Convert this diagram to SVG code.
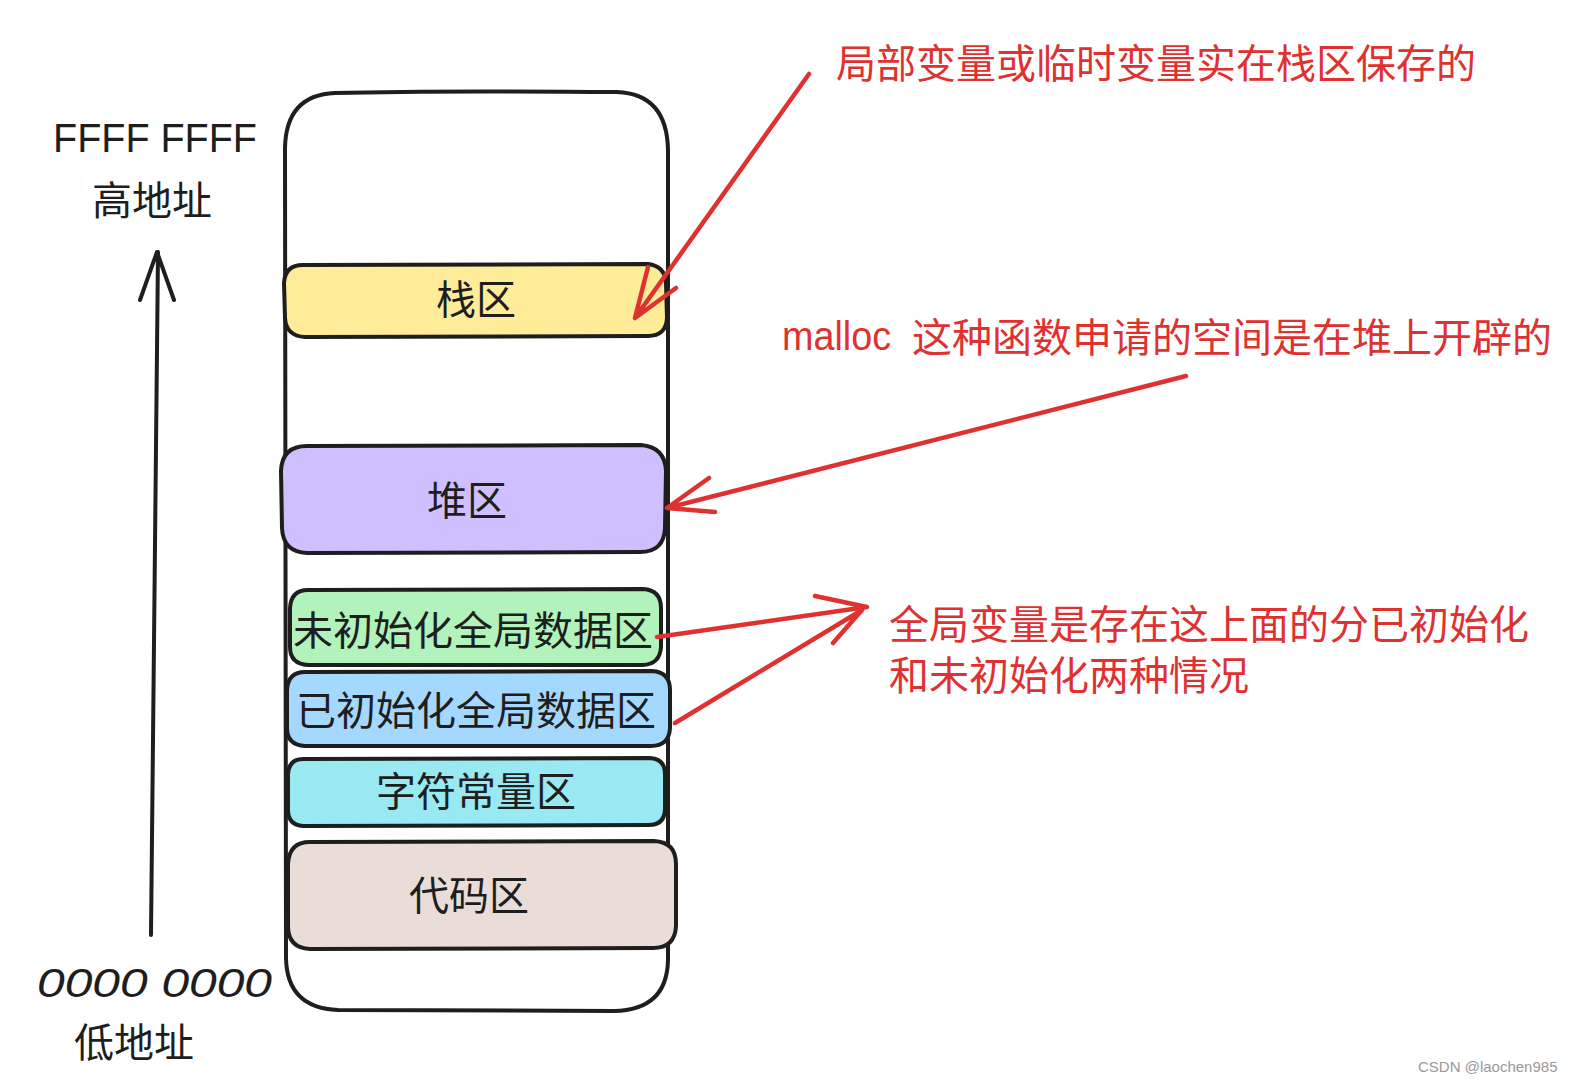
<svg xmlns="http://www.w3.org/2000/svg" width="1579" height="1083" viewBox="0 0 1579 1083">
<style>
.box{stroke:#1e1e1e;stroke-width:4;stroke-linejoin:round;stroke-linecap:round}
.cn{font-family:"Noto Sans CJK SC","Noto Sans",sans-serif;font-size:40px;fill:#1e1e1e}
.hand{font-family:"Liberation Sans","DejaVu Sans",sans-serif;font-size:40px;fill:#1e1e1e}
.red{fill:#e03131}
.rl{fill:none;stroke:#e03131;stroke-width:4.5;stroke-linecap:round;stroke-linejoin:round}
.bl{fill:none;stroke:#1e1e1e;stroke-width:4;stroke-linecap:round;stroke-linejoin:round}
</style>
<rect width="1579" height="1083" fill="#ffffff"/>
<g id="memory">
<path class="box" fill="#ffffff" d="M 335,93 C 450,90 560,92 617,92 Q 667,94 668,150 L 668,960 Q 667,1010 614,1011 L 338,1010 Q 287,1008 286,958 L 285,148 Q 286,95 335,93 Z"/>
</g>
<g id="stack">
<path class="box" fill="#ffec99" d="M 303,265 L 648,264 Q 665,266 666,283 L 667,318 Q 666,336 648,336 L 305,337 Q 286,336 285,318 L 284,283 Q 285,265 303,265 Z"/>
<text class="cn" x="476" y="314" text-anchor="middle">栈区</text>
</g>
<g id="heap">
<path class="box" fill="#d0bfff" d="M 307,446 L 641,445 Q 665,447 666,471 L 665,528 Q 664,552 640,552 L 307,553 Q 283,552 282,528 L 281,471 Q 282,446 307,446 Z"/>
<text class="cn" x="467" y="515" text-anchor="middle">堆区</text>
</g>
<g id="bss">
<path class="box" fill="#b2f2bb" d="M 308,590 L 643,589 Q 661,590 661,608 L 661,647 Q 660,664 643,665 L 308,665 Q 290,664 290,647 L 290,608 Q 291,590 308,590 Z"/>
<text class="cn" x="473" y="645" text-anchor="middle">未初始化全局数据区</text>
</g>
<g id="data">
<path class="box" fill="#a5d8ff" d="M 305,672 L 652,671 Q 670,672 670,690 L 670,728 Q 669,746 651,746 L 305,746 Q 287,745 287,728 L 287,690 Q 288,672 305,672 Z"/>
<text class="cn" x="476" y="725" text-anchor="middle">已初始化全局数据区</text>
</g>
<g id="rodata">
<path class="box" fill="#99e9f2" d="M 303,759 L 650,758 Q 665,759 665,774 L 665,810 Q 664,825 649,825 L 303,826 Q 288,825 288,810 L 288,774 Q 289,759 303,759 Z"/>
<text class="cn" x="476" y="806" text-anchor="middle">字符常量区</text>
</g>
<g id="code">
<path class="box" fill="#eaddd7" d="M 310,842 L 654,841 Q 676,842 676,864 L 676,926 Q 675,948 653,948 L 310,949 Q 288,948 288,926 L 288,864 Q 289,842 310,842 Z"/>
<text class="cn" x="469" y="910" text-anchor="middle">代码区</text>
</g>
<g id="high-label">
<text class="hand" x="53" y="152" textLength="204" lengthAdjust="spacingAndGlyphs">FFFF FFFF</text>
<text class="cn" x="152" y="215" text-anchor="middle">高地址</text>
</g>
<g id="low-label">
<text class="hand" x="37" y="997" textLength="235" lengthAdjust="spacingAndGlyphs" font-style="italic">0000 0000</text>
<text class="cn" x="134" y="1057" text-anchor="middle">低地址</text>
</g>
<g id="note-stack">
<text class="cn red" x="836" y="78">局部变量或临时变量实在栈区保存的</text>
</g>
<g id="note-heap">
<text class="hand red" x="782" y="350" font-size="27" textLength="109" lengthAdjust="spacingAndGlyphs">malloc</text>
<text class="cn red" x="912" y="352">这种函数申请的空间是在堆上开辟的</text>
</g>
<g id="note-global">
<text class="cn red" x="889" y="639">全局变量是存在这上面的分已初始化</text>
<text class="cn red" x="889" y="690">和未初始化两种情况</text>
</g>
<g id="connectors">
<path class="bl" d="M 151,935 L 158,252 M 140,300 L 157,252 L 174,300"/>
<path class="rl" d="M 809,74 L 635,318 M 648,267 L 635,318 L 676,288"/>
<path class="rl" d="M 1186,376 L 667,508 M 709,478 L 667,508 L 715,512"/>
<path class="rl" d="M 657,637 L 867,607 M 815,596 L 867,607"/>
<path class="rl" d="M 675,723 L 862,610 M 833,643 L 862,610"/>
</g>
<text x="1418" y="1072" font-family="Liberation Sans, Arial, sans-serif" font-size="15" fill="#999999">CSDN @laochen985</text>
</svg>
